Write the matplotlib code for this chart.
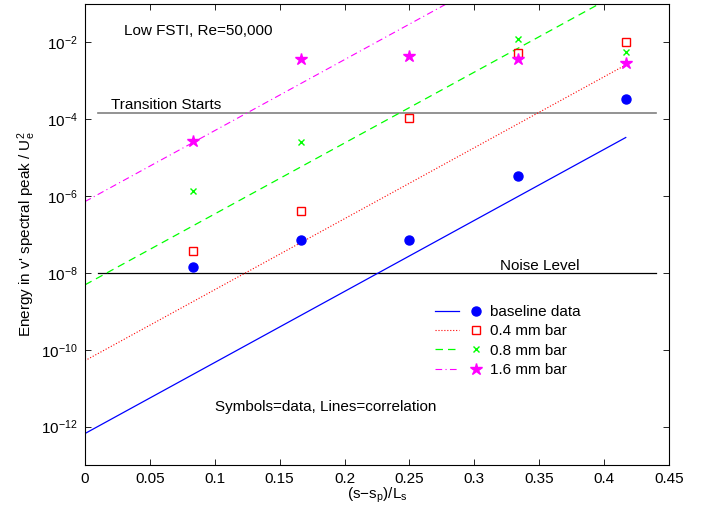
import matplotlib

matplotlib.use("Agg")
import matplotlib.pyplot as plt  # noqa: E402
from matplotlib.legend_handler import HandlerTuple  # noqa: E402

plt.rcParams["font.family"] = ["Liberation Sans", "DejaVu Sans"]
plt.rcParams["mathtext.fontset"] = "custom"
plt.rcParams["mathtext.rm"] = "Liberation Sans"
plt.rcParams["mathtext.it"] = "Liberation Sans"
plt.rcParams["mathtext.default"] = "regular"
plt.rcParams["font.size"] = 11

# stations (s-sp)/Ls
x_data = [1 / 12, 2 / 12, 3 / 12, 4 / 12, 5 / 12]

baseline = [1.45e-8, 7.2e-8, 7.0e-8, 3.4e-6, 3.4e-4]
bar_04 = [3.7e-8, 4.0e-7, 1.1e-4, 5.4e-3, 1.0e-2]
bar_08 = [1.35e-6, 2.55e-5, 4.3e-3, 1.2e-2, 5.6e-3]
bar_16 = [2.7e-5, 3.8e-3, 4.4e-3, 3.8e-3, 2.95e-3]

# correlation lines, end points
fit_x = [0.0, 5 / 12]
fit_baseline = [6.6e-13, 3.35e-5]
fit_04 = [5.2e-11, 2.6e-3]
fit_08 = [4.9e-9, 2.4e-1]
fit_16 = [7.2e-7, 3.6e1]

transition_level = 1.45e-4
noise_level = 1.0e-8
ref_x = [0.01, 0.44]

fig = plt.figure(figsize=(7.04, 5.09), dpi=100)
ax = fig.add_axes([0.1207, 0.0864, 0.8296, 0.9057])

ax.plot(ref_x, [transition_level] * 2, color="#808080", linewidth=1.2)
ax.plot(ref_x, [noise_level] * 2, color="black", linewidth=0.9)

l0, = ax.plot(fit_x, fit_baseline, "-", color="#0000ff", linewidth=0.9)
l1, = ax.plot(fit_x, fit_04, ":", color="#ff0000", linewidth=0.8)
l2, = ax.plot(fit_x, fit_08, "--", color="#00ff00", linewidth=0.9, dashes=(6, 4))
l3, = ax.plot(fit_x, fit_16, "-.", color="#ff00ff", linewidth=0.8, dashes=(6, 3, 1, 3))

m0, = ax.plot(x_data, baseline, "o", color="#0000ff", markersize=6.5, linestyle="none")
m2, = ax.plot(x_data, bar_08, "x", color="#00ff00", markersize=5, markeredgewidth=1, linestyle="none")
m1, = ax.plot(x_data, bar_04, "s", markerfacecolor="none", markeredgecolor="#ff0000",
              markersize=6, markeredgewidth=1, linestyle="none")
m3, = ax.plot(x_data, bar_16, "*", color="#ff00ff", markersize=9, linestyle="none")

ax.set_yscale("log")
ax.set_xlim(0, 0.45)
ax.set_ylim(1e-13, 1e-1)
ax.set_xticks([0, 0.05, 0.1, 0.15, 0.2, 0.25, 0.3, 0.35, 0.4, 0.45])
ax.set_xticklabels(["0", "0.05", "0.1", "0.15", "0.2", "0.25", "0.3", "0.35", "0.4", "0.45"])
ax.set_yticks([1e-12, 1e-10, 1e-8, 1e-6, 1e-4, 1e-2])
ax.minorticks_off()
ax.tick_params(direction="in", top=True, right=True, length=4, width=0.6, labelsize=11, pad=5)
for sp in ax.spines.values():
    sp.set_linewidth(0.8)

ax.set_xlabel("(s\u2212s$_p$)/L$_s$", fontsize=11, labelpad=0)
ax.set_ylabel("Energy in v' spectral peak / U$_e^2$", fontsize=11, labelpad=2)

ax.text(0.03, 10 ** -1.71, "Low FSTI, Re=50,000", fontsize=11, va="center")
ax.text(0.02, 10 ** -3.64, "Transition Starts", fontsize=11, va="center")
ax.text(0.32, 10 ** -7.82, "Noise Level", fontsize=11, va="center")
ax.text(0.1, 10 ** -11.5, "Symbols=data, Lines=correlation", fontsize=11, va="center")

leg = ax.legend([(l0, m0), (l1, m1), (l2, m2), (l3, m3)],
                ["baseline data", "0.4 mm bar", "0.8 mm bar", "1.6 mm bar"],
                handler_map={tuple: HandlerTuple(ndivide=None, pad=0.3)},
                loc="upper left", bbox_to_anchor=(0.6, 0.347), frameon=False,
                borderpad=0, borderaxespad=0, handlelength=3.4, handletextpad=0.2,
                labelspacing=0.35, fontsize=11)

fig.savefig("out.png", dpi=100)
